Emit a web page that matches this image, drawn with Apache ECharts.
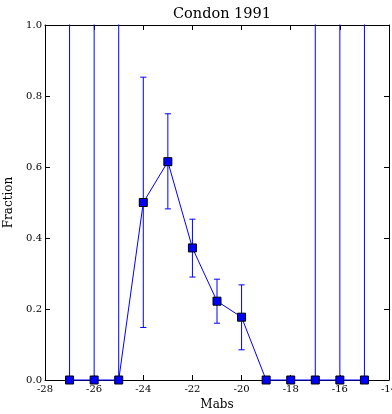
<!DOCTYPE html>
<html>
<head>
<meta charset="utf-8">
<script src="https://cdn.jsdelivr.net/npm/echarts@6/dist/echarts.min.js"></script>
<style>html,body{margin:0;padding:0;background:#fff}#c{width:392px;height:414px}</style>
</head>
<body>
<div id="c"></div>
<script>
const mags = [-27, -26, -25, -24, -23, -22, -21, -20, -19, -18, -17, -16, -15];
const fraction = [0, 0, 0, 0.5, 0.615, 0.372, 0.222, 0.177, 0, 0, 0, 0, 0];
const errLower = [-1.5, -1.5, -1.5, 0.148, 0.482, 0.29, 0.16, 0.085, 0, 0, -1.5, -1.5, -1.5];
const errUpper = [1.5, 1.5, 1.5, 0.853, 0.75, 0.453, 0.284, 0.268, 0, 0, 1.5, 1.5, 1.5];
const xTicks = [-28, -26, -24, -22, -20, -18, -16, -14];
const yTicks = [0.0, 0.2, 0.4, 0.6, 0.8, 1.0];

const FONT = 'DejaVu Serif';
const CAP = 0.125; // half cap width in axis units
const chart = echarts.init(document.getElementById('c'), null, {renderer: 'canvas'});

const lineData = mags.map((m, i) => [m, fraction[i]]);
const errData = [];
mags.forEach((m, i) => {
  const lo = errLower[i], hi = errUpper[i];
  if (lo === hi) return;
  errData.push([m, lo], [m, hi], [m, null]);
  errData.push([m - CAP, hi], [m + CAP, hi], [m, null]);
  errData.push([m - CAP, lo], [m + CAP, lo], [m, null]);
});

function axisCommon() {
  return {
    axisLine: {show: true, onZero: false, lineStyle: {color: '#000', width: 1}},
    axisTick: {show: true, inside: true, length: 5, lineStyle: {color: '#000', width: 1}},
    splitLine: {show: false}
  };
}

chart.setOption({
  animation: false,
  backgroundColor: '#fff',
  color: ['#0000ff', '#0000ff'],
  title: {
    text: 'Condon 1991', left: 217, top: 2, textAlign: 'center',
    textStyle: {fontFamily: FONT, fontSize: 14.5, fontWeight: 'normal', color: '#000'}
  },
  grid: {left: 45, right: 3, top: 25, bottom: 34, containLabel: false, outerBoundsMode: 'none'},
  xAxis: [
    Object.assign({
      type: 'value', min: xTicks[0], max: xTicks[xTicks.length - 1], interval: 2,
      position: 'bottom', name: 'Mabs', nameLocation: 'middle', nameGap: 15,
      nameTextStyle: {fontFamily: FONT, fontSize: 12, color: '#000'},
      axisLabel: {fontFamily: FONT, fontSize: 10, color: '#000', margin: 4,
        hideOverlap: false, showMinLabel: true, showMaxLabel: true,
        formatter: v => String(v)}
    }, axisCommon()),
    Object.assign({
      type: 'value', min: xTicks[0], max: xTicks[xTicks.length - 1], interval: 2,
      position: 'top', axisLabel: {show: false}
    }, axisCommon())
  ],
  yAxis: [
    Object.assign({
      type: 'value', min: yTicks[0], max: yTicks[yTicks.length - 1], interval: 0.2,
      position: 'left', name: 'Fraction', nameLocation: 'middle', nameGap: 22,
      nameTextStyle: {fontFamily: FONT, fontSize: 12, color: '#000'},
      axisLabel: {fontFamily: FONT, fontSize: 10, color: '#000', margin: 3,
        formatter: v => v.toFixed(1)}
    }, axisCommon()),
    Object.assign({
      type: 'value', min: yTicks[0], max: yTicks[yTicks.length - 1], interval: 0.2,
      position: 'right', axisLabel: {show: false}
    }, axisCommon())
  ],
  series: [
    {
      name: 'err',
      type: 'line',
      xAxisIndex: 0, yAxisIndex: 0,
      data: errData,
      z: 2,
      clip: true,
      connectNulls: false,
      symbol: 'none',
      silent: true,
      lineStyle: {color: '#0000ff', width: 1},
      itemStyle: {color: '#0000ff'}
    },
    {
      name: 'frac',
      type: 'line',
      xAxisIndex: 0, yAxisIndex: 0,
      data: lineData,
      z: 3,
      clip: false,
      symbol: 'rect', symbolSize: 8,
      showAllSymbol: true,
      lineStyle: {color: '#0000ff', width: 1},
      itemStyle: {color: '#0000ff', borderColor: '#000', borderWidth: 1}
    }
  ]
});
</script>
</body>
</html>
